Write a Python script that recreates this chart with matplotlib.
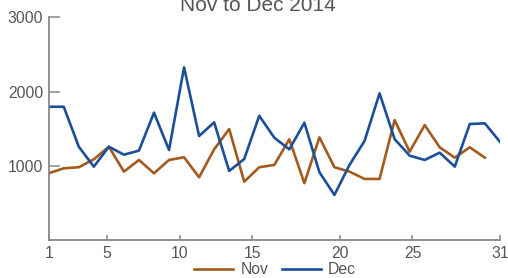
import matplotlib
matplotlib.use("Agg")
import matplotlib.pyplot as plt

# daily values
nov = [903, 970, 984, 1091, 1260, 925, 1082, 903, 1082, 1118,
       849, 1225, 1498, 790, 984, 1015, 1360, 769, 1386, 984,
       925, 827, 827, 1618, 1193, 1551, 1252, 1113, 1252, 1113]
dec = [1797, 1797, 1260, 992, 1260, 1153, 1207, 1717, 1216, 2326,
       1404, 1587, 934, 1095, 1676, 1381, 1225, 1582, 917, 612,
       1015, 1337, 1977, 1363, 1140, 1082, 1180, 992, 1565, 1574, 1327]
days_nov = list(range(1, len(nov) + 1))
days_dec = list(range(1, len(dec) + 1))

x_tick_labels = ["1", "5", "10", "15", "20", "25", "31"]
x_tick_pos = [1, 4.87, 9.71, 14.55, 20.35, 25.19, 31]
y_ticks = [1000, 2000, 3000]

NOV_COLOR = "#A35B1D"
DEC_COLOR = "#1B4F98"
GREY = "#888888"
TEXT = "#555555"

plt.rcParams["font.family"] = ["Liberation Sans", "DejaVu Sans"]

fig = plt.figure(figsize=(5.08, 2.78), dpi=100)
ax = fig.add_axes([0.0959, 0.135, 0.8881, 0.803])

ax.plot(days_nov, nov, color=NOV_COLOR, lw=1.9, label="Nov")
ax.plot(days_dec, dec, color=DEC_COLOR, lw=1.9, label="Dec")

ax.set_xlim(1, 31)
ax.set_ylim(0, 3000)
ax.set_xticks(x_tick_pos)
ax.set_xticklabels(x_tick_labels)
ax.set_yticks(y_ticks)

for s in ["top", "right"]:
    ax.spines[s].set_visible(False)
for s in ["left", "bottom"]:
    ax.spines[s].set_color(GREY)
    ax.spines[s].set_linewidth(1.3)

ax.tick_params(axis="y", direction="in", length=8, width=1.1, color=GREY,
               labelsize=11.3, labelcolor=TEXT, pad=4)
ax.tick_params(axis="x", direction="in", length=3.5, width=1.1, color=GREY,
               labelsize=11.3, labelcolor=TEXT, pad=4)

fig.text(258 / 508, 1 - 10.7 / 278, "Nov to Dec 2014", ha="center",
         va="baseline", fontsize=15, color=TEXT)

fig.legend(loc="center", bbox_to_anchor=(275 / 508, 1 - 269.5 / 278), ncol=2,
           frameon=False, fontsize=11.3, handlelength=2.5, handletextpad=0.45,
           columnspacing=0.85, labelcolor=TEXT, borderpad=0)

fig.savefig("out.png", dpi=100)
